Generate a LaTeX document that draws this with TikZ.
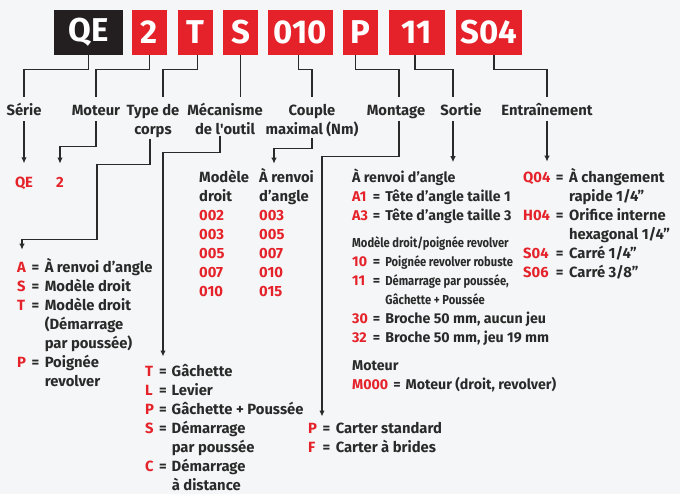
\documentclass[tikz,border=0pt]{standalone}
\usepackage{fontspec}
\setmainfont{Fira Sans}
\newfontfamily\narrowfont{Fira Sans}[FakeStretch=0.86]
\usetikzlibrary{arrows.meta}
\definecolor{brandred}{HTML}{E5222A}
\definecolor{ink}{HTML}{2A2A2A}
\definecolor{boxblack}{HTML}{231F20}
\definecolor{bgcol}{HTML}{F5F6F7}
\newcommand{\rcode}[1]{\textcolor{brandred}{#1}}
\newcommand{\nrw}{\narrowfont\fontsize{13}{19}\selectfont}
\newcommand{\txt}{\fontsize{14.8}{19}\selectfont\bfseries}
\tikzset{
	codebox/.style={fill=brandred, text=white, font=\fontsize{33}{33}\selectfont\bfseries, minimum height=45pt, inner sep=0pt},
	lbl/.style={text=ink, font=\txt, inner sep=1pt, anchor=north, text height=36pt, align=center},
	lblone/.style={lbl, text height=17pt, text depth=5pt},
	lst/.style={text=ink, font=\txt, inner sep=0pt, anchor=base west},
	conn/.style={draw=ink, line width=1.1pt},
	arr/.style={conn, -{Latex[length=6pt,width=5.5pt]}}
}
\begin{document}
\begin{tikzpicture}[x=1pt,y=-1pt]
		\fill[bgcol] (0,0) rectangle (680,494);
		\useasboundingbox (0,0) rectangle (680,494);
		\node[codebox, fill=boxblack, minimum width=69pt] (bQE) at (88.5,32.5) {QE};
		\node[codebox, minimum width=35pt] (b2) at (149.5,32.5) {2};
		\node[codebox, minimum width=35pt] (bT) at (195.5,32.5) {T};
		\node[codebox, minimum width=35pt] (bS) at (240.5,32.5) {S};
		\node[codebox, minimum width=65pt] (b010) at (300.5,32.5) {010};
		\node[codebox, minimum width=35pt] (bP) at (360.5,32.5) {P};
		\node[codebox, minimum width=56pt] (b11) at (417,32.5) {11};
		\node[codebox, minimum width=66pt] (bS04) at (489,32.5) {S04};
		\node[lblone] (lSerie) at (24,97) {Série};
		\node[lblone] (lMoteur) at (96,97) {Moteur};
		\node[lbl] (lType) at (153,97) {Type de\\corps};
		\node[lbl] (lMeca) at (225,97) {Mécanisme\\de l\textquotesingle outil};
		\node[lbl] (lCouple) at (312,97) {Couple\\maximal (Nm)};
		\node[lblone] (lMontage) at (396,97) {Montage};
		\node[lblone] (lSortie) at (461,97) {Sortie};
		\node[lblone] (lEntr) at (547,97) {Entraînement};
		\node[lst, anchor=base] (tQE) at (24,188) {\rcode{QE}};
		\node[lst, anchor=base] (t2) at (60,188) {\rcode{2}};
		\node[lst] (lstCorps) at (17,273) {\begin{tabular}[t]{@{}l@{\hspace{5.5pt}}l@{\hspace{5.5pt}}l@{}}
			\rcode{A} & = & À renvoi d’angle\\
			\rcode{S} & = & Modèle droit\\
			\rcode{T} & = & Modèle droit\\
			& & (Démarrage\\
			& & par poussée)\\
			\rcode{P} & = & Poignée\\
			& & revolver
		\end{tabular}};
		\node[lst] (lstMeca) at (145,376) {\begin{tabular}[t]{@{}l@{\hspace{5pt}}l@{\hspace{5pt}}l@{}}
			\rcode{T} & = & Gâchette\\
			\rcode{L} & = & Levier\\
			\rcode{P} & = & Gâchette + Poussée\\
			\rcode{S} & = & Démarrage\\
			& & par poussée\\
			\rcode{C} & = & Démarrage\\
			& & à distance
		\end{tabular}};
		\node[lst] (colDroit) at (199,183) {\begin{tabular}[t]{@{}l@{}}
			Modèle\\ droit\\ \rcode{002}\\ \rcode{003}\\ \rcode{005}\\ \rcode{007}\\ \rcode{010}
		\end{tabular}};
		\node[lst] (colAngle) at (259,183) {\begin{tabular}[t]{@{}l@{}}
			À renvoi\\ d’angle\\ \rcode{003}\\ \rcode{005}\\ \rcode{007}\\ \rcode{010}\\ \rcode{015}
		\end{tabular}};
		\node[lst, font=\fontsize{14.2}{19}\selectfont\bfseries] (lstSortie) at (352,183) {\begin{tabular}[t]{@{}l@{\hspace{5pt}}l@{\hspace{5pt}}l@{}}
			\multicolumn{3}{@{}l@{}}{À renvoi d’angle}\\
			\rcode{A1} & = & Tête d’angle taille 1\\
			\rcode{A3} & = & Tête d’angle taille 3\\[8pt]
			\multicolumn{3}{@{}l@{}}{\nrw Modèle droit/poignée revolver}\\
			\rcode{10} & = & \nrw Poignée revolver robuste\\
			\rcode{11} & = & \nrw Démarrage par poussée,\\
			& & \nrw Gâchette + Poussée\\
			\rcode{30} & = & Broche 50 mm, aucun jeu\\
			\rcode{32} & = & Broche 50 mm, jeu 19 mm\\[9pt]
			\multicolumn{3}{@{}l@{}}{Moteur}\\
			\multicolumn{3}{@{}l@{}}{\rcode{M000}\hspace{5pt}=\hspace{5pt}Moteur (droit, revolver)}
		\end{tabular}};
		\node[lst] (lstMontage) at (308,433) {\begin{tabular}[t]{@{}l@{\hspace{5.5pt}}l@{\hspace{5.5pt}}l@{}}
			\rcode{P} & = & Carter standard\\
			\rcode{F} & = & Carter à brides
		\end{tabular}};
		\node[lst] (lstEntr) at (523,183) {\begin{tabular}[t]{@{}l@{\hspace{5.5pt}}l@{\hspace{5.5pt}}l@{}}
			\rcode{Q04} & = & À changement\\
			& & rapide 1/4”\\
			\rcode{H04} & = & Orifice interne\\
			& & hexagonal 1/4”\\
			\rcode{S04} & = & Carré 1/4”\\
			\rcode{S06} & = & Carré 3/8”
		\end{tabular}};
		\draw[conn] (bQE.south) -- ++(0,14) -| (lSerie.north);
		\draw[conn] (b2.south) -- ++(0,14) -| (lMoteur.north);
		\draw[conn] ([xshift=2pt]bT.south) -- ++(0,14) -| ([xshift=10pt]lType.north);
		\draw[conn] (bS.south) -- (bS.south |- lMeca.north);
		\draw[conn] ([xshift=-2pt]b010.south) -- ++(0,14) -| (lCouple.north);
		\draw[conn] ([xshift=-5pt]bP.south) -- ++(0,14) -| ([xshift=3pt]lMontage.north);
		\draw[conn] ([xshift=-2pt]b11.south) -- ++(0,14) -| ([xshift=-8pt]lSortie.north);
		\draw[conn] ([xshift=5pt]bS04.south) -- ++(0,14) -| (lEntr.north);
		\draw[arr] (lSerie.south) -- ([yshift=14pt]tQE.north);
		\draw[arr] (lMoteur.south) -- ++(0,25) -| ([yshift=14pt]t2.north);
		\draw[arr] ([xshift=-3pt]lType.south) -- ++(0,26) -| ++(-53,75) -| ([xshift=5pt,yshift=9pt]lstCorps.north west);
		\draw[arr] ([xshift=-5pt]lMeca.south) -- ++(0,17) -| ([xshift=18pt,yshift=6pt]lstMeca.north west);
		\draw[arr] (lCouple.south) -- ++(0,11) -| ([xshift=15pt,yshift=5pt]colAngle.north west);
		\draw[arr] ([xshift=3pt]lMontage.south) -- ++(0,35) -| ([xshift=14pt,yshift=3pt]lstMontage.north west);
		\draw[arr] ([xshift=-8pt]lSortie.south) -- ([xshift=101pt,yshift=7pt]lstSortie.north west);
		\draw[arr] (lEntr.south) -- ([xshift=24pt,yshift=7pt]lstEntr.north west);
\end{tikzpicture}
\end{document}
